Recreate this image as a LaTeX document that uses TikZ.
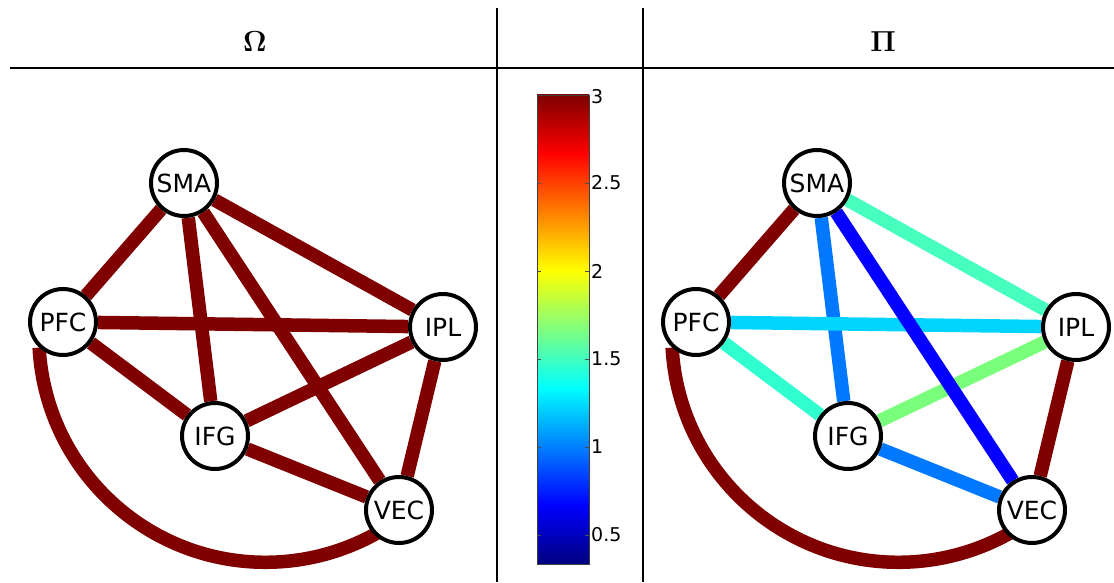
\RequirePackage{fix-cm}
\documentclass[tikz,border=0pt]{standalone}
\usepackage[no-math]{fontspec}
\newfontfamily\nodefont{DejaVu Sans}
\newfontfamily\tickfont{DejaVu Sans}
\pgfdeclarelayer{bg}
\pgfsetlayers{bg,main}
\definecolor{dred}{rgb}{0.5,0,0}
\definecolor{jetnavy}{rgb}{0,0,0.5}
\definecolor{jetblue}{rgb}{0,0,1}
\definecolor{jetcyan}{rgb}{0,1,1}
\definecolor{jetyellow}{rgb}{1,1,0}
\definecolor{jetred}{rgb}{1,0,0}
\definecolor{cAqua}{HTML}{46FFBF}
\definecolor{cAzure}{HTML}{0078FF}
\definecolor{cBlue}{HTML}{0500FF}
\definecolor{cSky}{HTML}{00D4FF}
\definecolor{cTurq}{HTML}{30FFD0}
\definecolor{cMint}{HTML}{7AFF7D}
\begin{document}
\begin{tikzpicture}[x=1pt,y=1pt,
  region/.style={circle,draw=black,line width=4pt,fill=white,minimum size=66pt,inner sep=0pt,
    font=\nodefont\fontsize{25}{25}\selectfont},
  edge/.style={line width=13.5pt},
  rule/.style={line width=1.8pt,black},
  head/.style={font=\fontsize{29}{33}\selectfont},
  ticklabel/.style={anchor=west,inner sep=0pt,font=\tickfont\fontsize{19}{19}\selectfont},
  tickmark/.style={line width=0.6pt,black!70}]
\useasboundingbox (0,0) rectangle (1114,582);

% table rules
\coordinate (v1t) at (497,574); \coordinate (v1b) at (497,0);
\coordinate (v2t) at (643,574); \coordinate (v2b) at (643,0);
\coordinate (hl) at (10,514); \coordinate (hr) at (1114,514);
\draw[rule] (v1t) -- (v1b);
\draw[rule] (v2t) -- (v2b);
\draw[rule] (hl) -- (hr);

% headers
\node[head] (hOmega) at (255,540) {$\mathbf{\Omega}$};
\node[head] (hPi) at (883,540) {$\mathbf{\Pi}$};

% colour bar (jet)
\shade[bottom color=jetnavy, top color=jetblue] (537,18) rectangle (589,77);
\shade[bottom color=jetblue, top color=jetcyan] (537,76.6) rectangle (589,194.4);
\shade[bottom color=jetcyan, top color=jetyellow] (537,193.9) rectangle (589,311.6);
\shade[bottom color=jetyellow, top color=jetred] (537,311.1) rectangle (589,428.9);
\shade[bottom color=jetred, top color=dred] (537,428.4) rectangle (589,487);
\draw[line width=0.8pt,black!75] (537,18) rectangle (589,487);
\foreach \yy in {47,135,223,311,399}{
  \draw[tickmark] (585,\yy) -- (589,\yy);
  \draw[tickmark] (537,\yy) -- (541,\yy);
}
\node[ticklabel] (t3) at (591,485) {3};
\node[ticklabel] (t25) at (591,399) {2.5};
\node[ticklabel] (t2) at (591,311) {2};
\node[ticklabel] (t15) at (591,223) {1.5};
\node[ticklabel] (t1) at (591,135) {1};
\node[ticklabel] (t05) at (591,47) {0.5};

% left graph (Omega)
\node[region] (LSMA) at (184,399) {SMA};
\node[region] (LPFC) at (63,260) {PFC};
\node[region] (LIPL) at (443,255) {IPL};
\node[region] (LIFG) at (215,146) {IFG};
\node[region] (LVEC) at (399,72) {VEC};

% right graph (Pi)
\node[region] (RSMA) at (817,399) {SMA};
\node[region] (RPFC) at (696,260) {PFC};
\node[region] (RIPL) at (1076,255) {IPL};
\node[region] (RIFG) at (848,146) {IFG};
\node[region] (RVEC) at (1032,72) {VEC};

\begin{pgfonlayer}{bg}
  % left edges
  \draw[edge,dred] (LSMA) -- (LPFC);
  \draw[edge,dred] (LSMA) -- (LIPL);
  \draw[edge,dred] (LSMA) -- (LIFG);
  \draw[edge,dred] (LPFC) -- (LIPL);
  \draw[edge,dred] (LPFC) -- (LIFG);
  \draw[edge,dred] (LIFG) -- (LIPL);
  \draw[edge,dred] (LIFG) -- (LVEC);
  \draw[edge,dred] (LSMA) -- (LVEC);
  \draw[edge,dred] (LIPL) -- (LVEC);
  \draw[edge,dred] (LPFC.227) arc[start angle=183.06, end angle=301, radius=226.8pt];
  % right edges
  \draw[edge,dred] (RSMA) -- (RPFC);
  \draw[edge,cAqua] (RSMA) -- (RIPL);
  \draw[edge,cAzure] (RSMA) -- (RIFG);
  \draw[edge,cSky] (RPFC) -- (RIPL);
  \draw[edge,cTurq] (RPFC) -- (RIFG);
  \draw[edge,cMint] (RIFG) -- (RIPL);
  \draw[edge,cAzure] (RIFG) -- (RVEC);
  \draw[edge,cBlue] (RSMA) -- (RVEC);
  \draw[edge,dred] (RIPL) -- (RVEC);
  \draw[edge,dred] (RPFC.227) arc[start angle=183.06, end angle=301, radius=226.8pt];
\end{pgfonlayer}
\end{tikzpicture}
\end{document}
